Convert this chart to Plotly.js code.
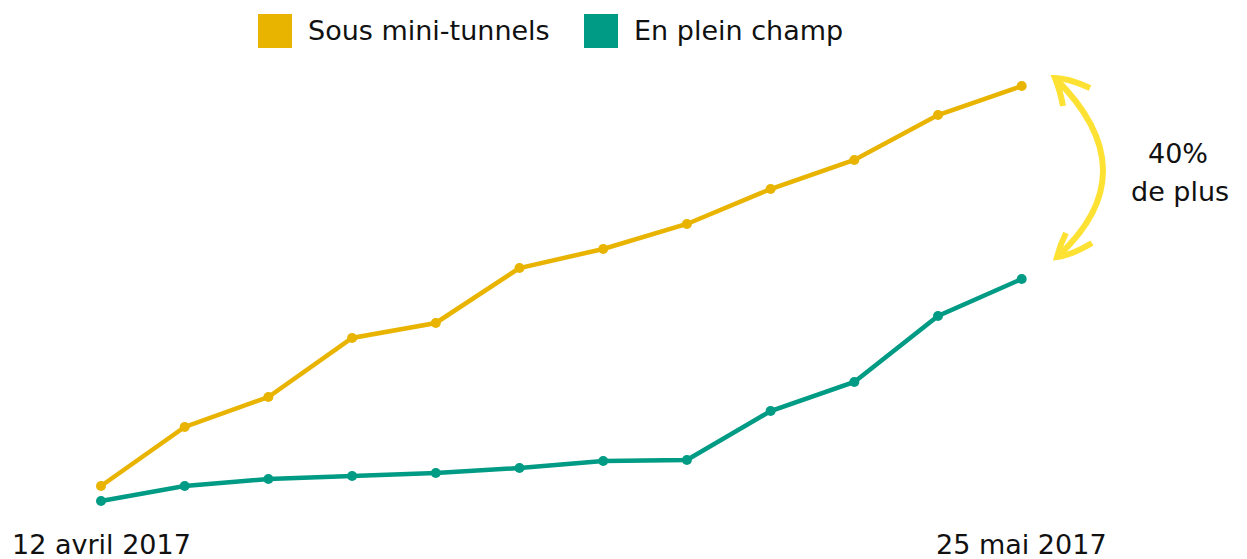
<!DOCTYPE html>
<html><head><meta charset="utf-8">
<script src="https://cdn.plot.ly/plotly-3.0.1.min.js"></script>
<style>html,body{margin:0;padding:0;background:#fff}#chart{width:1247px;height:559px}</style>
</head><body><div id="chart"></div>
<script>
// Data (relative height units)
const dates = ["12 avril 2017","","","","","","","","","","","25 mai 2017"];
const steps = [0,1,2,3,4,5,6,7,8,9,10,11];
const sousMiniTunnels = [15, 74, 104, 163, 178, 233, 252, 277, 312, 341, 386, 415];
const enPleinChamp   = [0, 15, 22, 25, 28, 33, 40, 41, 90, 119, 185, 222];
const seriesNames = ["Sous mini-tunnels", "En plein champ"];
const annotationText = ["40%", "de plus"];

const W = 1247, H = 559;
const YEL = "#E8B400", GRN = "#009B84", ARROW = "#FDE133";
const FONT = "DejaVu Sans";
const px = x => x / W, py = y => 1 - y / H;

const traces = [
  {x: steps, y: sousMiniTunnels, name: seriesNames[0], type: "scatter", mode: "lines+markers",
   line: {color: YEL, width: 4.5}, marker: {color: YEL, size: 10}},
  {x: steps, y: enPleinChamp, name: seriesNames[1], type: "scatter", mode: "lines+markers",
   line: {color: GRN, width: 4.5}, marker: {color: GRN, size: 10}}
];

const pth = (pts) => pts.map((p,i)=> (i?"L":"M")+px(p[0])+","+py(p[1])).join(" ");
const shapes = [
  {type:"rect", xref:"paper", yref:"paper", x0:px(258), x1:px(292), y0:py(48), y1:py(14), fillcolor:YEL, line:{width:0}},
  {type:"rect", xref:"paper", yref:"paper", x0:px(584), x1:px(618), y0:py(48), y1:py(14), fillcolor:GRN, line:{width:0}},
  {type:"path", xref:"paper", yref:"paper", line:{color:ARROW, width:6},
   path: "M"+px(1055)+","+py(78)+" Q"+px(1150)+","+py(172)+" "+px(1057)+","+py(257)},
  {type:"path", xref:"paper", yref:"paper", line:{color:ARROW, width:6},
   path: "M"+px(1090)+","+py(88)+" Q"+px(1068)+","+py(78)+" "+px(1055)+","+py(78)+" Q"+px(1060)+","+py(90)+" "+px(1063)+","+py(106)},
  {type:"path", xref:"paper", yref:"paper", line:{color:ARROW, width:6},
   path: "M"+px(1092)+","+py(243)+" Q"+px(1072)+","+py(255)+" "+px(1057)+","+py(257)+" Q"+px(1060)+","+py(245)+" "+px(1066)+","+py(233)}
];

const ann = (text, x, y, xanchor) => ({text, xref:"paper", yref:"paper", x:px(x), y:py(y),
  xanchor: xanchor||"center", yanchor:"middle", showarrow:false, font:{family:FONT, size:27, color:"#111"}});

const annotations = [
  ann(seriesNames[0], 306, 30, "left"),
  ann(seriesNames[1], 632, 30, "left"),
  ann(annotationText[0], 1178, 153),
  ann(annotationText[1], 1180, 191),
  {text: dates[0], x: steps[0], y: -43, xref:"x", yref:"y", showarrow:false, xanchor:"center", yanchor:"middle", font:{family:FONT, size:27, color:"#111"}},
  {text: dates[11], x: steps[11], y: -43, xref:"x", yref:"y", showarrow:false, xanchor:"center", yanchor:"middle", font:{family:FONT, size:27, color:"#111"}}
];

const layout = {
  width: W, height: H,
  margin: {l:0, r:0, t:0, b:0},
  paper_bgcolor:"#fff", plot_bgcolor:"#fff",
  showlegend: false,
  xaxis: {range: [-101/83.7, (W-101)/83.7], visible: false, fixedrange: true},
  yaxis: {range: [-58, 501], visible: false, fixedrange: true},
  shapes, annotations,
  font: {family: FONT}
};
Plotly.newPlot("chart", traces, layout, {displayModeBar:false, staticPlot:true});
</script></body></html>
